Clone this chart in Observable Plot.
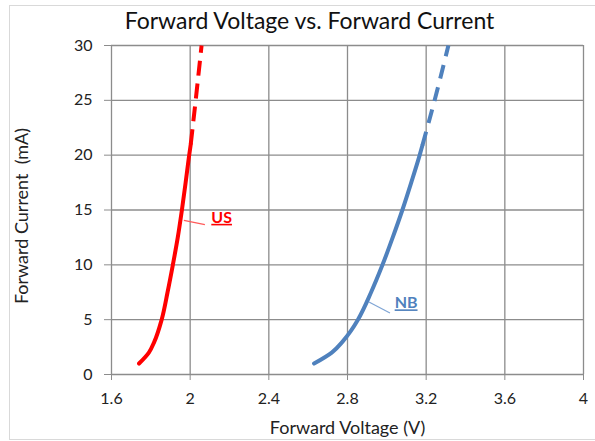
<!DOCTYPE html>
<html>
<head>
<meta charset="utf-8">
<script src="https://cdn.jsdelivr.net/npm/d3@7"></script>
<script src="https://cdn.jsdelivr.net/npm/@observablehq/plot@0.6"></script>
<style>
  html, body { margin: 0; padding: 0; background: white; }
  #wrap { position: relative; width: 595px; height: 441px; overflow: hidden; }
  #border { position: absolute; left: 9px; top: 5px; width: 600px; height: 433px; border: 1px solid #d9d9d9; pointer-events: none; }
  #chart { position: absolute; left: 0; top: 0; }
  .ul text { text-decoration: underline; }
</style>
</head>
<body>
<div id="wrap"><div id="chart"></div><div id="border"></div></div>
<script>
// Tick values
const xTicks = [1.6, 2, 2.4, 2.8, 3.2, 3.6, 4];
const yTicks = [0, 5, 10, 15, 20, 25, 30];

// US series (solid measured part, dashed extrapolated part)
const usSolidV = [1.74, 1.79, 1.818, 1.855, 1.885, 1.912, 1.937, 1.958, 1.977, 1.995, 2.003];
const usSolidI = [1, 2, 3, 5, 7.5, 10, 12.5, 15, 17.5, 20, 21];
const usDashV  = [2.003, 2.028, 2.058];
const usDashI  = [21, 25, 30];

// NB series
const nbSolidV = [2.63, 2.72, 2.775, 2.818, 2.853, 2.92, 2.978, 3.03, 3.079, 3.124, 3.167, 3.181];
const nbSolidI = [1, 2, 3, 4, 5, 7.5, 10, 12.5, 15, 17.5, 20, 20.9];
const nbDashV  = [3.181, 3.243, 3.313];
const nbDashI  = [20.9, 25, 30];

// Series labels (data units)
const labelNames = ["US", "NB"];
const labelV = [2.16, 3.098];
const labelI = [14.3, 6.5];
const leaderV1 = [1.968, 2.909];
const leaderI1 = [14.05, 6.61];
const leaderV2 = [2.075, 3.016];
const leaderI2 = [13.66, 5.61];
const colors = ["#ff0000", "#4f81bd"];
const leaderColors = ["#ff5a5a", "#7fa5d5"];

const zip = (xs, ys) => xs.map((x, i) => ({x, y: ys[i]}));
const labels = labelNames.map((n, i) => ({n, x: labelV[i], y: labelI[i], c: colors[i]}));
const leaders = labelNames.map((n, i) => ({x1: leaderV1[i], y1: leaderI1[i], x2: leaderV2[i], y2: leaderI2[i], c: leaderColors[i]}));

const grid = {stroke: "#8c8c8c", strokeOpacity: 1, strokeWidth: 1.3};

const plot = Plot.plot({
  width: 595,
  height: 441,
  marginLeft: 111,
  marginRight: 12,
  marginTop: 45,
  marginBottom: 67,
  x: {domain: [1.6, 4]},
  y: {domain: [0, 30]},
  style: {fontFamily: "Lato, 'Open Sans', sans-serif", fontSize: "16px", background: "white", color: "#222"},
  marks: [
    Plot.gridX(xTicks, grid),
    Plot.gridY(yTicks, grid),
    Plot.axisX(xTicks, {tickSize: 6, tickPadding: 12, stroke: "#8c8c8c", fill: "#222", fontSize: 16, tickFormat: d => String(d), label: null}),
    Plot.axisY(yTicks, {tickSize: 7, tickPadding: 12, stroke: "#8c8c8c", fill: "#222", fontSize: 16, tickFormat: d => String(d), label: null}),
    Plot.line(zip(usSolidV, usSolidI), {x: "x", y: "y", stroke: colors[0], strokeWidth: 4, curve: "monotone-y"}),
    Plot.line(zip(usDashV, usDashI), {x: "x", y: "y", stroke: colors[0], strokeWidth: 4, curve: "monotone-y", strokeDasharray: "15,8", strokeLinecap: "butt"}),
    Plot.line(zip(nbSolidV, nbSolidI), {x: "x", y: "y", stroke: colors[1], strokeWidth: 4, curve: "monotone-y"}),
    Plot.line(zip(nbDashV, nbDashI), {x: "x", y: "y", stroke: colors[1], strokeWidth: 4, curve: "monotone-y", strokeDasharray: "14,9", strokeLinecap: "butt"}),
    Plot.link(leaders, {x1: "x1", y1: "y1", x2: "x2", y2: "y2", stroke: "c", strokeWidth: 1.2}),
    Plot.text(labels, {x: "x", y: "y", text: "n", fill: "c", fontWeight: "bold", fontSize: 16, className: "ul"}),
    Plot.text(["Forward Voltage vs. Forward Current"], {frameAnchor: "top", dx: -38, dy: -33, fontSize: 23, fill: "#111"}),
    Plot.text(["Forward Voltage (V)"], {frameAnchor: "bottom", dy: 59, fontSize: 18, fill: "#222"}),
    Plot.text(["Forward Current  (mA)"], {frameAnchor: "left", textAnchor: "middle", dx: -89, dy: 6, rotate: -90, fontSize: 18, fill: "#222"})
  ]
});
document.getElementById("chart").appendChild(plot);
</script>
</body>
</html>
